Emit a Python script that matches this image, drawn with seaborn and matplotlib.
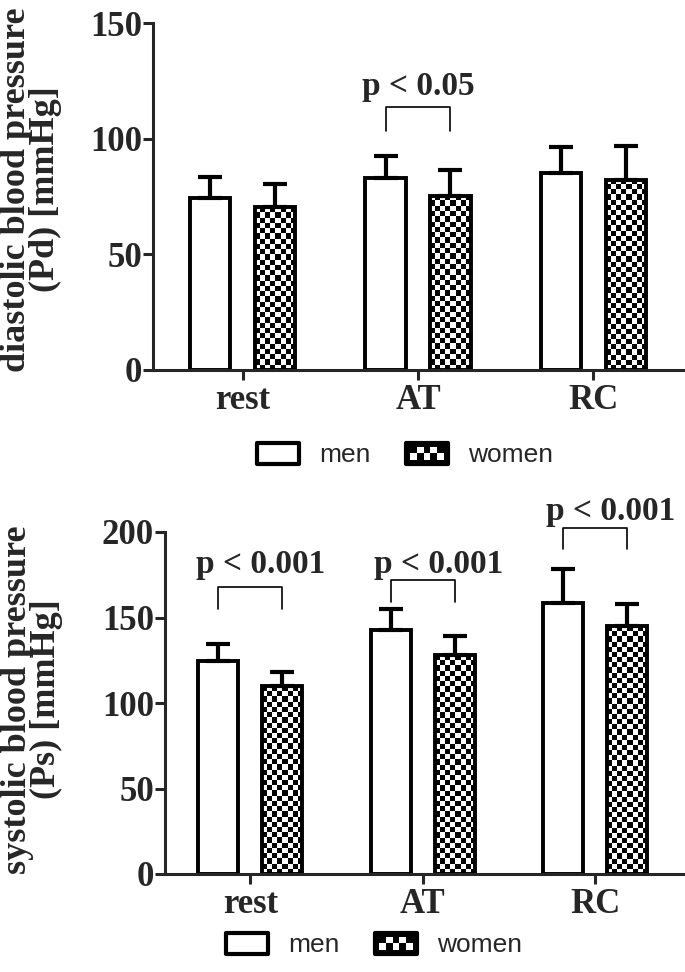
import numpy as np
import pandas as pd
import matplotlib
matplotlib.use("Agg")
import matplotlib.pyplot as plt
import seaborn as sns
from matplotlib.patches import Rectangle
from matplotlib.legend_handler import HandlerBase

phases = ["rest", "AT", "RC"]
groups = ["men", "women"]

# diastolic (top panel)
dia_men = [74.2, 83.1, 85.3]
dia_men_sd = [9.1, 9.4, 11.3]
dia_women = [70.3, 75.3, 82.2]
dia_women_sd = [10.0, 11.1, 14.5]

# systolic (bottom panel)
sys_men = [124.3, 142.8, 158.6]
sys_men_sd = [10.3, 12.3, 19.9]
sys_women = [109.7, 127.8, 145.0]
sys_women_sd = [8.7, 11.1, 12.7]

# significance brackets: phase, bracket top, leg bottom, text baseline, text
dia_sig_phase = ["AT"]
dia_sig_top = [113.5]
dia_sig_leg = [103.5]
dia_sig_text_y = [119.0]
dia_sig_text = ["p < 0.05"]

sys_sig_phase = ["rest", "AT", "RC"]
sys_sig_top = [167.8, 172.0, 202.5]
sys_sig_leg = [155.1, 159.0, 190.0]
sys_sig_text_y = [176.3, 176.0, 207.0]
sys_sig_text = ["p < 0.001", "p < 0.001", "p < 0.001"]

BAR_LW = 2.8
AX_LW = 2.2
DPI = 100


class BoxHandler(HandlerBase):
    def __init__(self, checker=False):
        super().__init__()
        self.checker = checker

    def create_artists(self, legend, orig_handle, xdescent, ydescent,
                       width, height, fontsize, trans):
        x0, y0 = -xdescent, -ydescent
        if not self.checker:
            box = Rectangle((x0, y0), width, height, facecolor="white",
                            edgecolor="black", lw=3, joinstyle="round",
                            transform=trans)
            return [box]
        arts = [Rectangle((x0, y0), width, height, facecolor="black",
                          edgecolor="black", lw=3, joinstyle="round",
                          transform=trans)]
        pad = height * 0.2
        nx, ny = 5, 2
        cw = (width - 2 * pad) / nx
        ch = (height - 2 * pad) / ny
        for j in range(ny):
            for i in range(nx):
                if (i + j) % 2 == 0:
                    arts.append(Rectangle((x0 + pad + i * cw, y0 + pad + j * ch),
                                          cw, ch, facecolor="white", lw=0,
                                          transform=trans))
        return arts


def draw_panel(ax, men, men_sd, women, women_sd, ylim, yticks, xlim, ylabel,
               label_x, label_y, sig_phase, sig_top, sig_leg, sig_text_y,
               sig_text, sig_dx, legend_xy):
    df = pd.DataFrame({
        "phase": phases * 2,
        "group": ["men"] * 3 + ["women"] * 3,
        "value": men + women,
    })
    sns.barplot(data=df, x="phase", y="value", hue="group", order=phases,
                hue_order=groups, palette=["white", "white"], edgecolor="black",
                linewidth=BAR_LW, width=0.74, gap=0.37, errorbar=None,
                legend=False, ax=ax)
    ax.set_xlim(*xlim)
    ax.set_ylim(*ylim)
    fig = ax.figure

    men_bars, women_bars = ax.containers[0], ax.containers[1]

    # checkered fill for women bars
    for bar in women_bars:
        x0, w, h = bar.get_x(), bar.get_width(), bar.get_height()
        p0 = ax.transData.transform((x0, 0))
        p1 = ax.transData.transform((x0 + w, h))
        nx = max(1, int(round((p1[0] - p0[0]) / 5.2)))
        ny = max(1, int(round((p1[1] - p0[1]) / 5.2)))
        board = np.add.outer(np.arange(ny), np.arange(nx)) % 2
        bar.set_facecolor("none")
        im = ax.imshow(board, cmap="gray_r", extent=(x0, x0 + w, 0, h),
                       origin="lower", aspect="auto", interpolation="nearest",
                       zorder=bar.get_zorder() - 0.1, vmin=0, vmax=1)
        im.set_clip_path(bar)

    # upper error bars only
    for bars, sd in [(men_bars, men_sd), (women_bars, women_sd)]:
        xs = [b.get_x() + b.get_width() / 2 for b in bars]
        ys = [b.get_height() for b in bars]
        ax.errorbar(xs, ys, yerr=[np.zeros(len(sd)), sd], fmt="none",
                    ecolor="black", elinewidth=3.0, capsize=8.5,
                    capthick=3.0, zorder=4)

    ax.set_xlim(*xlim)
    ax.set_ylim(*ylim)
    ax.set_yticks(yticks)

    # significance brackets
    for ph, top, leg, ty, txt, dx in zip(sig_phase, sig_top, sig_leg,
                                         sig_text_y, sig_text, sig_dx):
        k = phases.index(ph)
        xa = men_bars[k].get_x() + men_bars[k].get_width() / 2
        xb = women_bars[k].get_x() + women_bars[k].get_width() / 2
        ax.plot([xa, xa, xb, xb], [leg, top, top, leg], color="black",
                lw=1.2, clip_on=False, zorder=5)
        ax.text(k + dx, ty, txt, ha="center", va="baseline", fontsize=24,
                fontweight="bold", clip_on=False)

    sns.despine(ax=ax)
    for s in ["left", "bottom"]:
        ax.spines[s].set_linewidth(AX_LW)
    ax.tick_params(axis="both", direction="out", length=7, width=AX_LW,
                   labelsize=25)
    ax.tick_params(axis="y", pad=1)
    ax.tick_params(axis="x", pad=3)
    for lbl in ax.get_xticklabels() + ax.get_yticklabels():
        lbl.set_fontweight("bold")
    ax.set_xlabel("")
    ax.set_ylabel(ylabel, fontsize=26, fontweight="bold", linespacing=0.82)
    ax.yaxis.set_label_coords(label_x, label_y)

    h_men = Rectangle((0, 0), 1, 1)
    h_women = Rectangle((0, 0), 1, 1)
    ax.legend([h_men, h_women], groups,
              handler_map={h_men: BoxHandler(False), h_women: BoxHandler(True)},
              loc="center", bbox_to_anchor=legend_xy,
              bbox_transform=fig.transFigure, ncol=2, frameon=False,
              prop={"family": "Liberation Sans", "size": 19, "weight": "normal"},
              handlelength=1.6, handleheight=0.87, handletextpad=0.75,
              columnspacing=1.35)


sns.set_style("ticks")
plt.rcParams["font.family"] = ["Liberation Serif", "DejaVu Serif"]
plt.rcParams["font.weight"] = "bold"

W, H = 685, 972
fig = plt.figure(figsize=(W / DPI, H / DPI), dpi=DPI)
ax_top = fig.add_axes([153 / W, 1 - 370 / H, (683 - 153) / W, (370 - 23) / H])
ax_bot = fig.add_axes([165 / W, 1 - 874 / H, (685 - 165) / W, (874 - 532) / H])

draw_panel(ax_top, dia_men, dia_men_sd, dia_women, dia_women_sd,
           (0, 150), [0, 50, 100, 150], (-0.51, 2.51),
           "diastolic blood pressure\n(Pd) [mmHg]", -0.172, 0.52,
           dia_sig_phase, dia_sig_top, dia_sig_leg, dia_sig_text_y,
           dia_sig_text, [0.0], (405 / W, 1 - 455 / H))

draw_panel(ax_bot, sys_men, sys_men_sd, sys_women, sys_women_sd,
           (0, 200), [0, 50, 100, 150, 200], (-0.494, 2.52),
           "systolic blood pressure\n(Ps) [mmHg]", -0.197, 0.51,
           sys_sig_phase, sys_sig_top, sys_sig_leg, sys_sig_text_y,
           sys_sig_text, [0.06, 0.09, 0.09], (374 / W, 1 - 945 / H))

fig.savefig("out.png", dpi=DPI)
